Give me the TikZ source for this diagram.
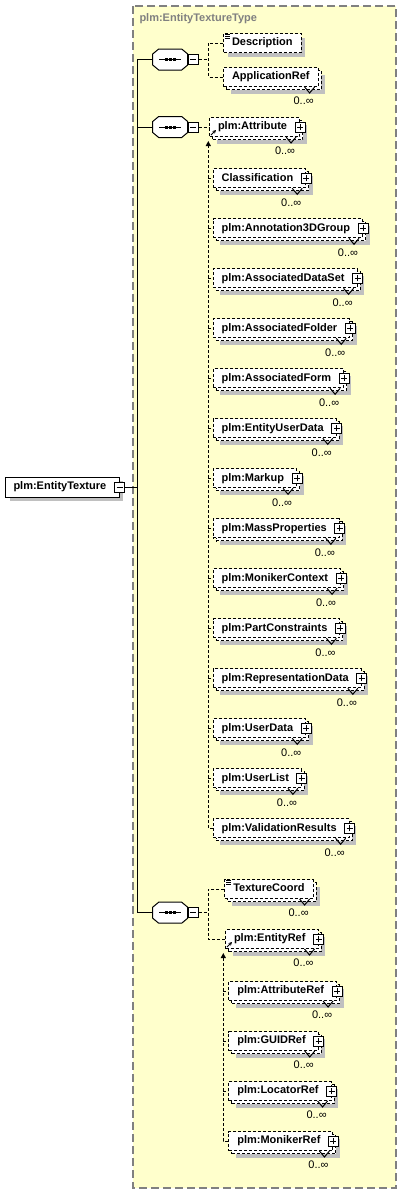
\documentclass[tikz,border=0pt]{standalone}
\usepackage{fontspec}
\setmainfont{Liberation Sans}
\usetikzlibrary{arrows.meta, shadows}
\definecolor{typefill}{RGB}{255,255,204}
\definecolor{typeborder}{RGB}{128,128,128}
\definecolor{shadowgray}{RGB}{192,192,192}
\tikzset{
  elemfont/.style={font=\fontsize{11}{13}\selectfont\bfseries},
  elem/.style={rectangle, draw=black, fill=white, dash pattern=on 3pt off 2pt,
    anchor=west, minimum height=19pt, inner xsep=8.5pt, inner ysep=0pt,
    text height=8pt, text depth=2.5pt, elemfont},
  elemone/.style={elem,
    general shadow={fill=shadowgray, shadow xshift=4pt, shadow yshift=-4pt}},
  elemmany/.style={elem,
    general shadow={fill=shadowgray, shadow xshift=7pt, shadow yshift=-7pt},
    general shadow={fill=white, draw=black, dash pattern=on 3pt off 2pt,
                    shadow xshift=3pt, shadow yshift=-3pt}},
  elemkids/.style={elemmany, execute at end node={\hspace*{4pt}}},
  rootbox/.style={rectangle, draw=black, solid, fill=white, anchor=west,
    minimum height=20pt, inner xsep=8pt, inner ysep=0pt,
    text height=8pt, text depth=2.5pt, elemfont,
    execute at end node={\hspace*{5pt}},
    general shadow={fill=shadowgray, shadow xshift=4pt, shadow yshift=-4pt}},
  seqbox/.style={rectangle, anchor=west, minimum width=34pt, minimum height=20pt,
    inner sep=0pt},
  minusbox/.style={rectangle, draw=black, solid, fill=white, minimum size=10pt,
    inner sep=0pt,
    path picture={
      \draw ([xshift=-3pt]path picture bounding box.center)
         -- ([xshift=3pt]path picture bounding box.center);}},
  plusbox/.style={rectangle, draw=black, solid, fill=white, minimum size=10pt,
    inner sep=0pt,
    path picture={
      \draw ([xshift=-3pt]path picture bounding box.center)
         -- ([xshift=3pt]path picture bounding box.center)
            ([yshift=-3pt]path picture bounding box.center)
         -- ([yshift=3pt]path picture bounding box.center);}},
  mult/.style={font=\fontsize{11}{13}\selectfont, inner sep=0pt},
  typetitle/.style={font=\fontsize{11}{13}\selectfont\bfseries, text=typeborder,
    anchor=west, inner sep=0pt},
  typebox/.style={draw=typeborder, fill=typefill, line width=1.3pt,
    dash pattern=on 8pt off 4pt},
  tree/.style={draw=black, solid},
  conn/.style={draw=black, dash pattern=on 3pt off 2pt},
  subarrow/.style={conn, -{Triangle[width=5pt, length=5pt]}},
  refarrow/.style={draw=black, solid, line width=0.8pt,
    -{Stealth[width=3.5pt, length=3.5pt]}},
}
% octagon of a sequence, drawn round its node
\newcommand{\octpath}[1]{([shift={(6,0)}]#1.north west) -- ([shift={(-6,0)}]#1.north east)
  -- ([shift={(0,5)}]#1.north east) -- ([shift={(0,-5)}]#1.south east)
  -- ([shift={(-6,0)}]#1.south east) -- ([shift={(6,0)}]#1.south west)
  -- ([shift={(0,-5)}]#1.south west) -- ([shift={(0,5)}]#1.north west) -- cycle}
\newcommand{\seqshape}[1]{%
  \fill[shadowgray, shift={(4,4)}] \octpath{#1};
  \filldraw[fill=white, draw=black] \octpath{#1};
  \draw ([xshift=-11pt]#1.center) -- ([xshift=11pt]#1.center);
  \foreach \dotx in {-4,0,4}
    \fill ([xshift=\dotx pt]#1.center) ++(-1.5,-1.5) rectangle ++(3,3);}
% multiplicity 0..oo under a box
\newcommand{\manymark}[1]{%
  \draw[solid] ([xshift=-14pt]#1.south east) -- ++(5,6) -- ++(5,-6);
  \node[mult] (#1-m) at ([shift={(-15,14)}]#1.south east) {0..∞};}
% simple content mark
\newcommand{\textmark}[1]{%
  \foreach \lineoff in {1.5,3.5,5.5}
    \draw[solid, line width=0.6pt] ([shift={(2,\lineoff)}]#1.north west) -- ++(5,0);}
% reference mark
\newcommand{\refmark}[1]{%
  \draw[refarrow] ([shift={(2,-2)}]#1.south west) -- ++(5,-5);}

\begin{document}
\begin{tikzpicture}[x=1pt, y=-1pt, line width=1pt]
  \fill[white] (0,0) rectangle (401,1195);
  \useasboundingbox (0,0) rectangle (401,1195);
  \draw[typebox] (133,6) rectangle (396,1188);
  \node[typetitle] (typename) at (139,19) {plm:EntityTextureType};

  % root element
  \node[rootbox] (root) at (5,487) {plm:EntityTexture};
  \node[minusbox] (rootm) at (root.east) {};
  \coordinate (trunk) at (137.7,487);

  % sequences
  \node[seqbox] (seq1) at (152.7,59.5) {};
  \seqshape{seq1}
  \node[minusbox, anchor=west] (seq1m) at (seq1.east) {};
  \node[seqbox] (seq2) at (152.7,127) {};
  \seqshape{seq2}
  \node[minusbox, anchor=west] (seq2m) at (seq2.east) {};
  \node[seqbox] (seq3) at (152.7,912.7) {};
  \seqshape{seq3}
  \node[minusbox, anchor=west] (seq3m) at (seq3.east) {};

  % first sequence
  \coordinate (grp1) at (208.3,59.5);
  \node[elemone] (descr) at (223,43) {Description};
  \node[elemmany] (appref) at (223,77) {ApplicationRef};

  % second sequence
  \node[elemkids] (attr) at (209,127) {plm:Attribute};
  \coordinate (subst1) at (208.3,141);
  \node[elemkids] (classif) at (212.7,178.3) {Classification};
  \node[elemkids] (annot) at (212.7,228.3) {plm:Annotation3DGroup};
  \node[elemkids] (dataset) at (212.7,278.3) {plm:AssociatedDataSet};
  \node[elemkids] (folder) at (212.7,328.3) {plm:AssociatedFolder};
  \node[elemkids] (form) at (212.7,378.3) {plm:AssociatedForm};
  \node[elemkids] (entdata) at (212.7,428.3) {plm:EntityUserData};
  \node[elemkids] (markup) at (212.7,478.3) {plm:Markup};
  \node[elemkids] (massprop) at (212.7,528.3) {plm:MassProperties};
  \node[elemkids] (moniker) at (212.7,578.3) {plm:MonikerContext};
  \node[elemkids] (partcons) at (212.7,628.3) {plm:PartConstraints};
  \node[elemkids] (repdata) at (212.7,678.3) {plm:RepresentationData};
  \node[elemkids] (userdata) at (212.7,728.3) {plm:UserData};
  \node[elemkids] (userlist) at (212.7,778.3) {plm:UserList};
  \node[elemkids] (valres) at (212.7,828.3) {plm:ValidationResults};

  % third sequence
  \coordinate (grp3) at (208.3,912.7);
  \node[elemmany] (texcoord) at (224.3,889) {TextureCoord};
  \node[elemkids] (entref) at (225,939) {plm:EntityRef};
  \coordinate (subst3) at (223.3,953);
  \node[elemkids] (attref) at (228.3,991) {plm:AttributeRef};
  \node[elemkids] (guidref) at (228.3,1041) {plm:GUIDRef};
  \node[elemkids] (locref) at (228.3,1091) {plm:LocatorRef};
  \node[elemkids] (monref) at (228.3,1141) {plm:MonikerRef};

  % connectors
  \draw[tree] (rootm.east) -- (trunk);
  \draw[tree] (seq1.west) -| (trunk) |- (seq3.west);
  \draw[tree] (seq2.west) -- (seq2.west -| trunk);
  \draw[conn] (seq1m.east) -- (grp1);
  \draw[conn] (descr.west) -| (grp1) |- (appref.west);
  \draw[conn] (seq2m.east) -- (attr.west);
  \draw[subarrow] (valres.west) -| (subst1);
  \foreach \n in {classif, annot, dataset, folder, form, entdata, markup,
                  massprop, moniker, partcons, repdata, userdata, userlist}
    \draw[conn] (subst1 |- \n.west) -- (\n.west);
  \draw[conn] (seq3m.east) -- (grp3);
  \draw[conn] (texcoord.west) -| (grp3) |- (entref.west);
  \draw[subarrow] (monref.west) -| (subst3);
  \foreach \n in {attref, guidref, locref}
    \draw[conn] (subst3 |- \n.west) -- (\n.west);

  % box marks
  \foreach \n in {attr, classif, annot, dataset, folder, form, entdata, markup,
                  massprop, moniker, partcons, repdata, userdata, userlist, valres,
                  entref, attref, guidref, locref, monref}
    \node[plusbox] (\n-x) at (\n.east) {};
  \foreach \n in {appref, attr, classif, annot, dataset, folder, form, entdata,
                  markup, massprop, moniker, partcons, repdata, userdata, userlist,
                  valres, texcoord, entref, attref, guidref, locref, monref}
    {\manymark{\n}}
  \textmark{descr}
  \textmark{texcoord}
  \refmark{attr}
  \refmark{entref}
\end{tikzpicture}
\end{document}
